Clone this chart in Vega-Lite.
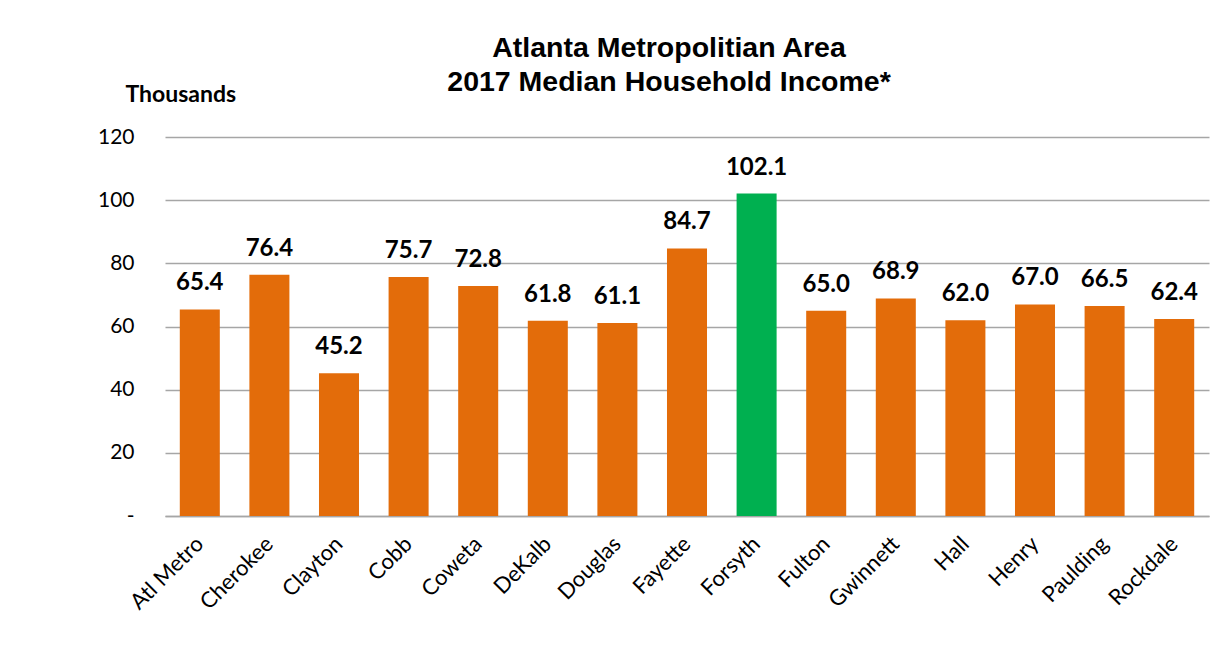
{
  "$schema": "https://vega.github.io/schema/vega-lite/v6.json",
  "width": 1044,
  "height": 379,
  "autosize": {"type": "none"},
  "padding": {"left": 165, "top": 137, "right": 22, "bottom": 152},
  "background": "white",
  "config": {"view": {"stroke": null}, "font": "Lato"},
  "title": {
    "text": ["Atlanta Metropolitian Area", "2017 Median Household Income*"],
    "font": "Liberation Sans",
    "fontSize": 28.5,
    "fontWeight": "bold",
    "color": "#000000",
    "lineHeight": 34,
    "anchor": "middle",
    "dx": -18,
    "offset": -13
  },
  "data": {
    "values": [
      {"county": "Atl Metro", "income": 65.4, "highlight": "no"},
      {"county": "Cherokee", "income": 76.4, "highlight": "no"},
      {"county": "Clayton", "income": 45.2, "highlight": "no"},
      {"county": "Cobb", "income": 75.7, "highlight": "no"},
      {"county": "Coweta", "income": 72.8, "highlight": "no"},
      {"county": "DeKalb", "income": 61.8, "highlight": "no"},
      {"county": "Douglas", "income": 61.1, "highlight": "no"},
      {"county": "Fayette", "income": 84.7, "highlight": "no"},
      {"county": "Forsyth", "income": 102.1, "highlight": "yes"},
      {"county": "Fulton", "income": 65.0, "highlight": "no"},
      {"county": "Gwinnett", "income": 68.9, "highlight": "no"},
      {"county": "Hall", "income": 62.0, "highlight": "no"},
      {"county": "Henry", "income": 67.0, "highlight": "no"},
      {"county": "Paulding", "income": 66.5, "highlight": "no"},
      {"county": "Rockdale", "income": 62.4, "highlight": "no"}
    ]
  },
  "encoding": {
    "x": {
      "field": "county",
      "type": "nominal",
      "sort": null,
      "scale": {"paddingInner": 0.425, "paddingOuter": 0.2125},
      "axis": {
        "title": null,
        "labelAngle": -45,
        "labelAlign": "right",
        "labelBaseline": "middle",
        "labelFont": "Lato",
        "labelFontSize": 22,
        "labelColor": "#000000",
        "labelPadding": 24,
        "ticks": false,
        "domain": true,
        "domainColor": "#a6a6a6",
        "domainWidth": 1.5,
        "grid": false
      }
    },
    "y": {
      "field": "income",
      "type": "quantitative",
      "scale": {"domain": [0, 120], "nice": false},
      "axis": {
        "values": [0, 20, 40, 60, 80, 100, 120],
        "labelExpr": "datum.value == 0 ? '-\u00a0\u00a0\u00a0' : datum.label",
        "labelFont": "Lato",
        "labelFontSize": 21,
        "labelColor": "#000000",
        "labelPadding": 31,
        "ticks": false,
        "domain": false,
        "grid": true,
        "gridColor": "#a6a6a6",
        "gridWidth": 1.5,
        "title": "Thousands",
        "titleFont": "Lato",
        "titleFontSize": 23,
        "titleFontWeight": "bold",
        "titleColor": "#000000",
        "titleAngle": 0,
        "titleAlign": "left",
        "titleBaseline": "alphabetic",
        "titleX": -40,
        "titleY": -36
      }
    }
  },
  "layer": [
    {
      "mark": {"type": "bar"},
      "encoding": {
        "color": {
          "field": "highlight",
          "type": "nominal",
          "scale": {"domain": ["no", "yes"], "range": ["#E36C0A", "#00B050"]},
          "legend": null
        }
      }
    },
    {
      "mark": {
        "type": "text",
        "baseline": "alphabetic",
        "dy": -19,
        "font": "Lato",
        "fontSize": 24,
        "fontWeight": "bold",
        "color": "#000000"
      },
      "encoding": {
        "text": {"field": "income", "type": "quantitative", "format": ".1f"}
      }
    }
  ]
}
